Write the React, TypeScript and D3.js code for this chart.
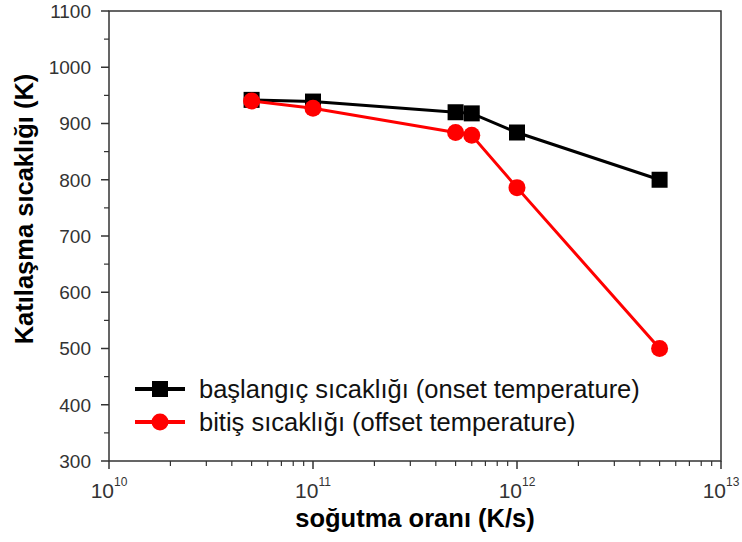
import * as d3 from 'd3';

const MARGIN = { top: 11, right: 21, bottom: 81, left: 109 };
const WIDTH = 742;
const HEIGHT = 542;

type DataPoint = { rate: number; temp: number };

// cooling rates (K/s)
const rates = [5e10, 1e11, 5e11, 6e11, 1e12, 5e12];
// onset temperature (K)
const onsetTemps = [942, 939, 920, 918, 884, 800];
// offset temperature (K)
const offsetTemps = [940, 927, 884, 879, 786, 500];

const seriesNames = [
  'başlangıç sıcaklığı (onset temperature)',
  'bitiş sıcaklığı (offset temperature)',
];
const seriesColors = ['#000000', '#ff0000'];

const yTicks = [300, 400, 500, 600, 700, 800, 900, 1000, 1100];
const xTicks = [1e10, 1e11, 1e12, 1e13];

const App = () => {
  const boundsWidth = WIDTH - MARGIN.left - MARGIN.right;
  const boundsHeight = HEIGHT - MARGIN.top - MARGIN.bottom;

  const xScale = d3.scaleLog().domain([1e10, 1e13]).range([0, boundsWidth]);
  const yScale = d3.scaleLinear().domain([300, 1100]).range([boundsHeight, 0]);

  const onset: DataPoint[] = rates.map((r, i) => ({ rate: r, temp: onsetTemps[i] }));
  const offset: DataPoint[] = rates.map((r, i) => ({ rate: r, temp: offsetTemps[i] }));

  const lineBuilder = d3
    .line<DataPoint>()
    .x((d) => xScale(d.rate))
    .y((d) => yScale(d.temp));

  // minor ticks
  const yMinor = d3.range(350, 1100, 100);
  const xMinor: number[] = [];
  for (let e = 10; e < 13; e++) {
    for (let m = 2; m <= 9; m++) xMinor.push(m * Math.pow(10, e));
  }

  const axisColor = '#333';
  const font = 'Arial, "Liberation Sans", sans-serif';

  return (
    <div style={{ position: 'absolute', left: 0, top: 0 }}>
      <svg width={WIDTH} height={HEIGHT} style={{ display: 'block', background: '#fff' }}>
        <g transform={`translate(${MARGIN.left},${MARGIN.top})`} fontFamily={font}>
          {/* frame */}
          <rect
            x={0}
            y={0}
            width={boundsWidth}
            height={boundsHeight}
            fill="none"
            stroke={axisColor}
            strokeWidth={1.5}
          />
          {/* y ticks */}
          {yTicks.map((t) => (
            <g key={t} transform={`translate(0,${yScale(t)})`}>
              <line x1={-8} x2={0} stroke={axisColor} strokeWidth={1.5} />
              <text x={-18} dy="0.36em" textAnchor="end" fontSize={19} fill="#333">
                {t}
              </text>
            </g>
          ))}
          {yMinor.map((t) => (
            <line
              key={t}
              x1={-5}
              x2={0}
              y1={yScale(t)}
              y2={yScale(t)}
              stroke={axisColor}
              strokeWidth={1.2}
            />
          ))}
          {/* x ticks */}
          {xTicks.map((t) => (
            <g key={t} transform={`translate(${xScale(t)},${boundsHeight})`}>
              <line y1={0} y2={8} stroke={axisColor} strokeWidth={1.5} />
              <text y={37} textAnchor="middle" fontSize={21} fill="#333">
                10
                <tspan dy={-12} fontSize={12}>
                  {Math.round(Math.log10(t))}
                </tspan>
              </text>
            </g>
          ))}
          {xMinor.map((t) => (
            <line
              key={t}
              x1={xScale(t)}
              x2={xScale(t)}
              y1={boundsHeight}
              y2={boundsHeight + 5}
              stroke={axisColor}
              strokeWidth={1.2}
            />
          ))}
          {/* axis titles */}
          <text
            x={boundsWidth / 2}
            y={boundsHeight + 66}
            textAnchor="middle"
            fontSize={25.5}
            fontWeight="bold"
            fill="#000"
          >
            soğutma oranı (K/s)
          </text>
          <text
            transform={`translate(${-76},${198}) rotate(-90)`}
            textAnchor="middle"
            fontSize={25.5}
            fontWeight="bold"
            fill="#000"
          >
            Katılaşma sıcaklığı (K)
          </text>

          {/* series */}
          <path d={lineBuilder(onset) || ''} fill="none" stroke={seriesColors[0]} strokeWidth={3} />
          {onset.map((d, i) => (
            <rect
              key={i}
              x={xScale(d.rate) - 8}
              y={yScale(d.temp) - 8}
              width={16}
              height={16}
              fill={seriesColors[0]}
            />
          ))}
          <path d={lineBuilder(offset) || ''} fill="none" stroke={seriesColors[1]} strokeWidth={3} />
          {offset.map((d, i) => (
            <circle key={i} cx={xScale(d.rate)} cy={yScale(d.temp)} r={8.5} fill={seriesColors[1]} />
          ))}

          {/* legend */}
          {seriesNames.map((name, i) => (
            <g key={name} transform={`translate(26,${378 + i * 33})`}>
              <line x1={0} x2={50} stroke={seriesColors[i]} strokeWidth={4} />
              {i === 0 ? (
                <rect x={17} y={-8} width={16} height={16} fill={seriesColors[i]} />
              ) : (
                <circle cx={25} cy={0} r={8.5} fill={seriesColors[i]} />
              )}
              <text x={64} dy="0.36em" fontSize={25.5} fill="#111">
                {name}
              </text>
            </g>
          ))}
        </g>
      </svg>
    </div>
  );
};

export default App;
